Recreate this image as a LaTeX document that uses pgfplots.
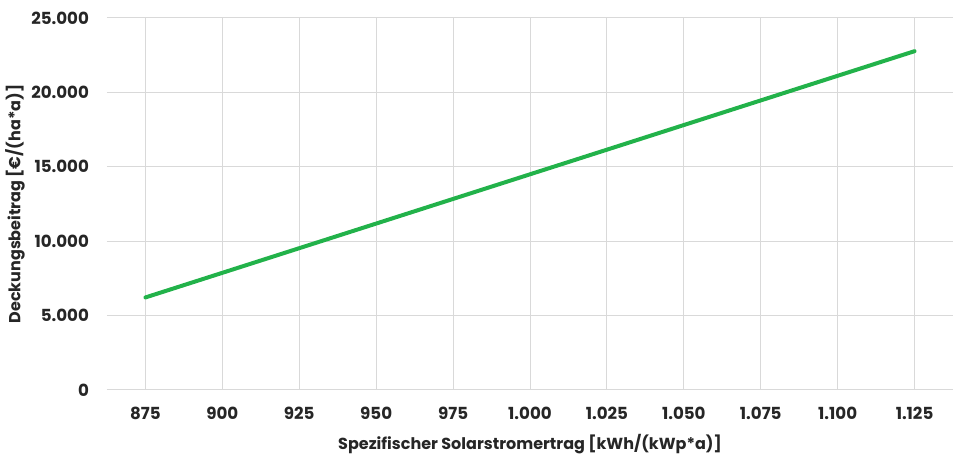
\documentclass[border=0pt]{standalone}
\usepackage{pgfplots}
\pgfplotsset{compat=1.18}
\usepackage{fontspec}
\setmainfont{Poppins}
\definecolor{lineg}{RGB}{34,178,74}
\definecolor{gridc}{RGB}{217,217,217}
\definecolor{txt}{RGB}{38,38,38}
\begin{document}
\begin{tikzpicture}[x=0.75pt,y=0.75pt]
\useasboundingbox (-107,-69) rectangle (849,390);
\begin{axis}[
  at={(0,0)}, anchor=south west,
  scale only axis, width=634.5pt, height=279pt,
  xmin=-0.5, xmax=10.5, ymin=0, ymax=25000,
  scaled y ticks=false,
  xtick={0,...,10},
  xticklabels={875,900,925,950,975,1.000,1.025,1.050,1.075,1.100,1.125},
  ytick={0,5000,10000,15000,20000,25000},
  yticklabels={0,5.000,10.000,15.000,20.000,25.000},
  axis line style={draw=none},
  major tick length=0pt,
  xmajorgrids, ymajorgrids,
  grid style={gridc, line width=0.75pt},
  tick label style={font=\fontsize{12.5}{14}\selectfont\bfseries, text=txt},
  label style={font=\fontsize{12}{14}\selectfont\bfseries, text=txt},
  xticklabel style={yshift=-9pt},
  yticklabel style={xshift=-10pt},
  xlabel={Spezifischer Solarstromertrag [kWh/(kWp*a)]},
  ylabel={Deckungsbeitrag [€/(ha*a)]},
  xlabel style={yshift=-4pt},
  ylabel style={yshift=-2pt},
  clip=false,
]
\addplot[lineg, line width=3pt, line cap=round] coordinates {
 (0,6220) (1,7875) (2,9530) (3,11185) (4,12840) (5,14495)
 (6,16150) (7,17805) (8,19460) (9,21115) (10,22770)
};
\end{axis}
\end{tikzpicture}
\end{document}
